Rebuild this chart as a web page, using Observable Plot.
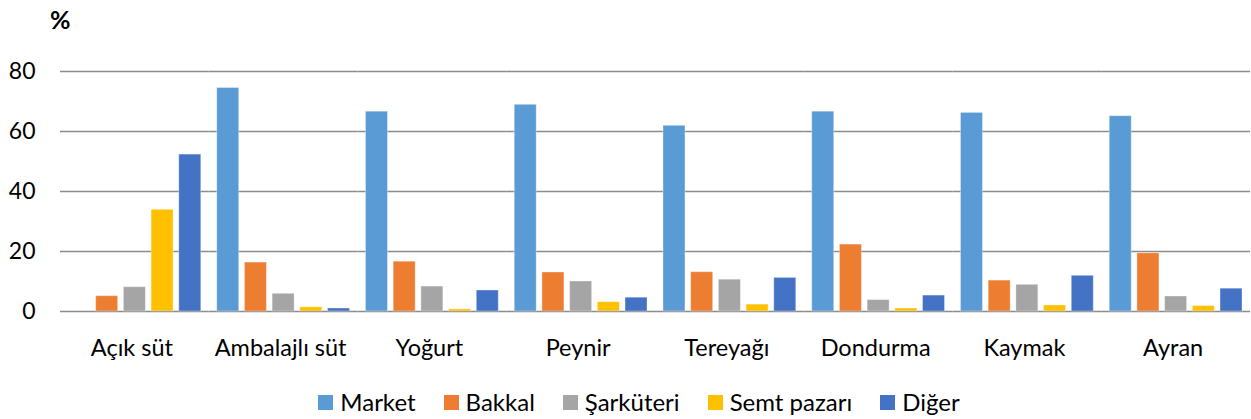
<!DOCTYPE html>
<html>
<head>
<meta charset="utf-8">
<script src="https://cdn.jsdelivr.net/npm/d3@7"></script>
<script src="https://cdn.jsdelivr.net/npm/@observablehq/plot@0.6"></script>
<style>
  html, body { margin: 0; padding: 0; background: #fff; }
  #wrap { position: relative; width: 1251px; height: 419px; font-family: Lato, "Open Sans", sans-serif; }
  #unit { position: absolute; left: 50px; top: 4px; font-size: 25px; font-weight: bold; color: #000; }
  #chart { position: absolute; left: 0; top: 0; }
  #legend { position: absolute; left: 0; top: 387px; width: 1251px; display: flex; justify-content: center; padding-left: 27px; box-sizing: border-box; font-size: 24px; color: #000; line-height: 30px; }
  .item { display: flex; align-items: center; margin: 0 14px; }
  .sw { width: 15px; height: 15px; margin-right: 7px; }
</style>
</head>
<body>
<div id="wrap">
  <div id="chart"></div>
  <div id="unit">%</div>
  <div id="legend"></div>
</div>
<script>
const categories = ["Açık süt", "Ambalajlı süt", "Yoğurt", "Peynir", "Tereyağı", "Dondurma", "Kaymak", "Ayran"];
const series = ["Market", "Bakkal", "Şarküteri", "Semt pazarı", "Diğer"];
const colors = ["#5B9BD5", "#ED7D31", "#A5A5A5", "#FFC000", "#4472C4"];
const market     = [0,    74.5, 66.6, 68.9, 61.9, 66.6, 66.2, 65.1];
const bakkal     = [5.1,  16.3, 16.6, 13.0, 13.1, 22.3, 10.3, 19.4];
const sarkuteri  = [8.1,  5.9,  8.3,  10.0, 10.6, 3.8,  8.9,  5.0];
const semtPazari = [33.9, 1.4,  0.7,  3.1,  2.3,  1.0,  2.0,  1.8];
const diger      = [52.3, 1.0,  7.0,  4.6,  11.2, 5.3,  11.9, 7.6];
const yTicks = [0, 20, 40, 60, 80];

const valuesBySeries = [market, bakkal, sarkuteri, semtPazari, diger];
const data = [];
categories.forEach((c, i) => {
  series.forEach((s, j) => {
    data.push({category: c, series: s, value: valuesBySeries[j][i]});
  });
});

const chart = Plot.plot({
  width: 1251,
  height: 370,
  marginLeft: 60,
  marginRight: 1,
  marginTop: 71,
  marginBottom: 59,
  style: {fontFamily: "Lato, 'Open Sans', sans-serif", color: "#000", background: "transparent"},
  fx: {domain: categories, padding: 0, label: null, round: false},
  x: {domain: series, paddingInner: 0.206, paddingOuter: 0.288, axis: null, round: false},
  y: {domain: [0, 80], label: null},
  color: {domain: series, range: colors},
  marks: [
    Plot.gridY(yTicks, {stroke: "#8c8c8c", strokeOpacity: 1, strokeWidth: 1.3}),
    Plot.barY(data, {fx: "category", x: "series", y: "value", fill: "series", stroke: "#ffffff", strokeOpacity: 0.35, strokeWidth: 1}),
    Plot.axisY(yTicks, {tickSize: 0, tickPadding: 25, fontSize: 23, label: null}),
    Plot.axisFx({anchor: "bottom", tickSize: 0, tickPadding: 28, fontSize: 23.5, dx: -3, label: null})
  ]
});
document.getElementById("chart").appendChild(chart);

const legend = document.getElementById("legend");
series.forEach((s, i) => {
  const item = document.createElement("div");
  item.className = "item";
  const sw = document.createElement("span");
  sw.className = "sw";
  sw.style.background = colors[i];
  const t = document.createElement("span");
  t.textContent = s;
  item.appendChild(sw);
  item.appendChild(t);
  legend.appendChild(item);
});
</script>
</body>
</html>
